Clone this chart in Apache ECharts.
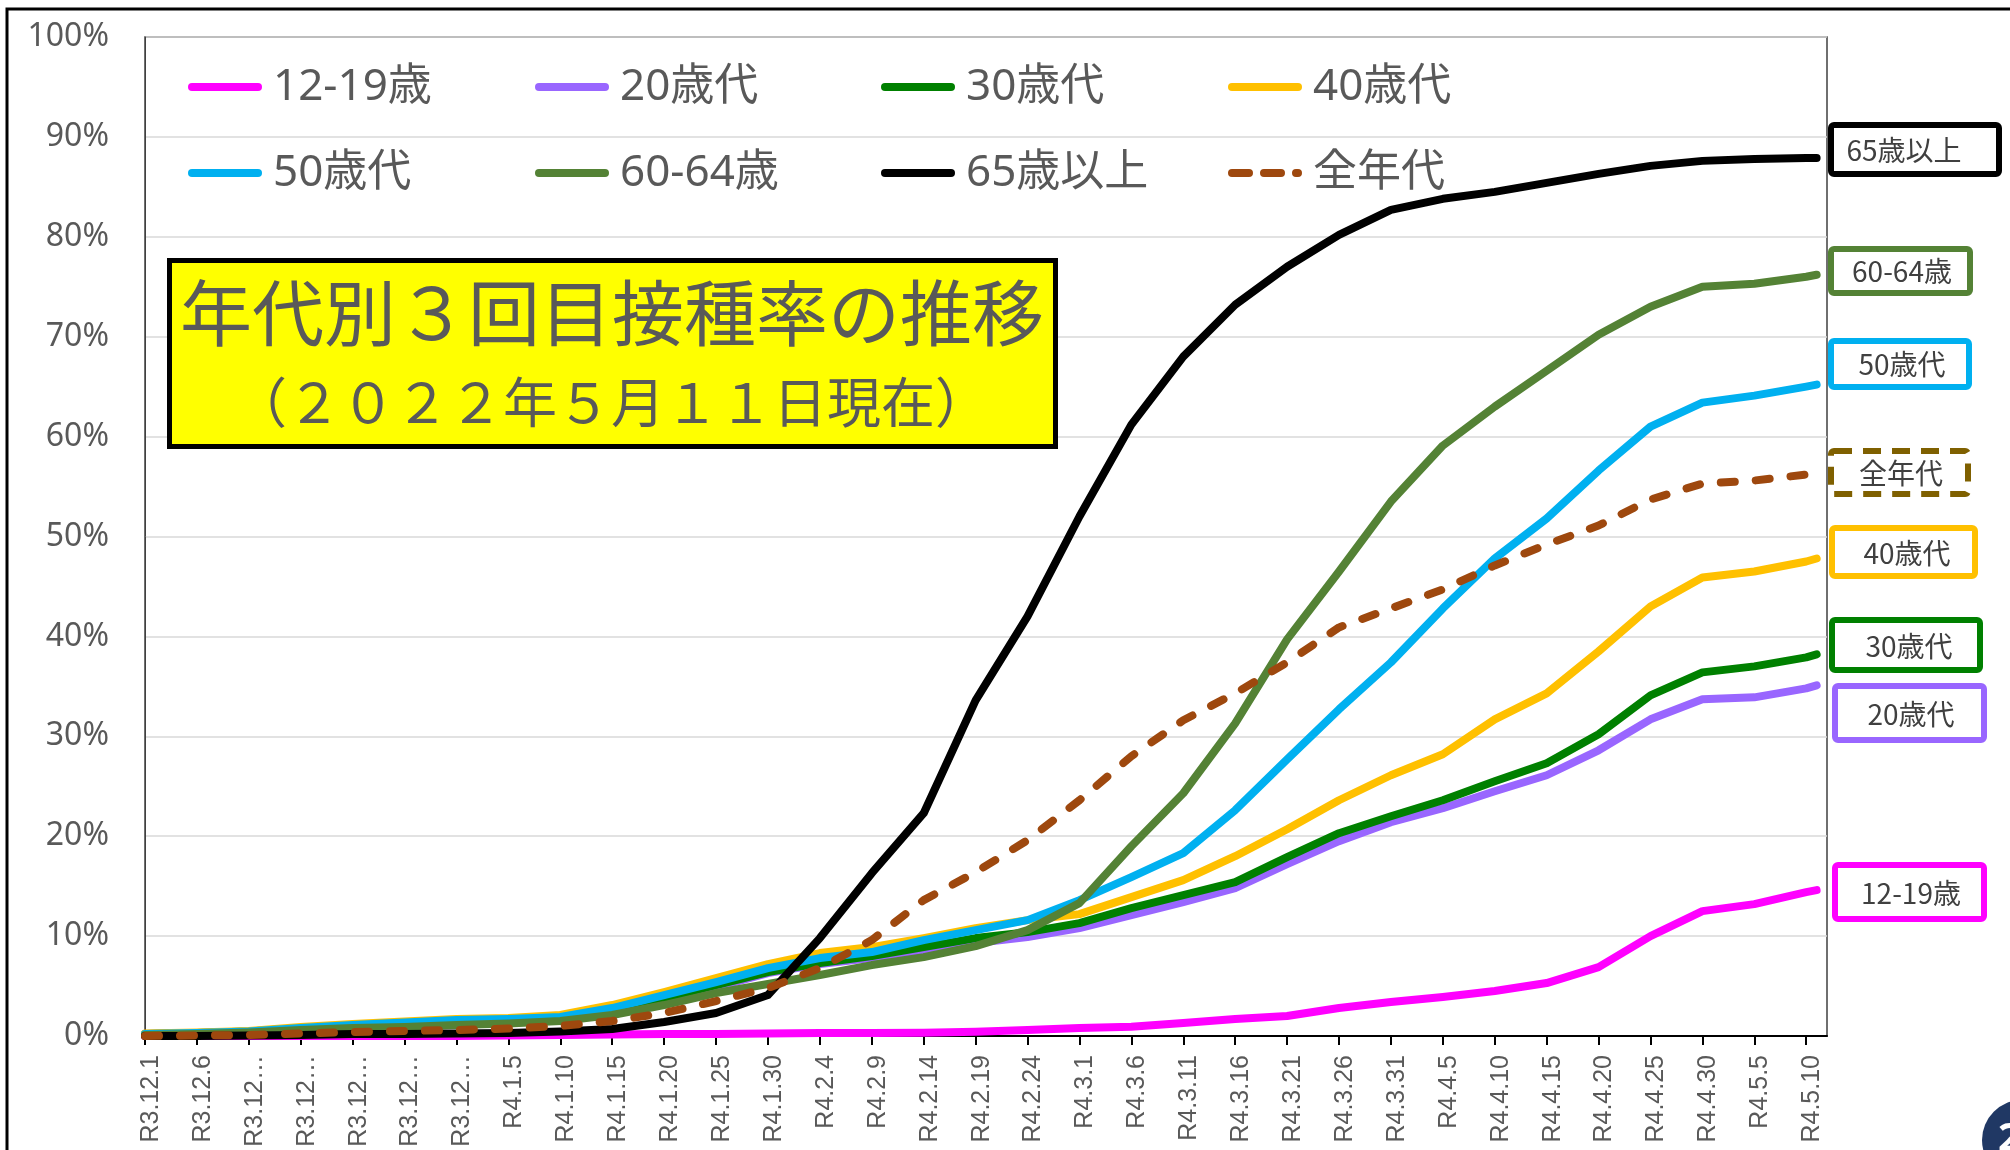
<!DOCTYPE html>
<html>
<head>
<meta charset="utf-8">
<title>年代別3回目接種率の推移</title>
<script src="https://cdn.jsdelivr.net/npm/echarts/dist/echarts.min.js"></script>
<style>
    html, body { margin: 0; padding: 0; background: #fff; }
    #capacity { width: 2010px; height: 1150px; }
</style>
</head>
<body>
<div id="capacity"></div>
<script>
// x軸の目盛り（5日ごと）
var tickDays = [0, 5, 10, 15, 20, 25, 30, 35, 40, 45, 50, 55, 60, 65, 70, 75, 80,
    85, 90, 95, 100, 105, 110, 115, 120, 125, 130, 135, 140, 145, 150, 155, 160];
var tickLabels = ['R3.12.1', 'R3.12.6', 'R3.12…', 'R3.12…', 'R3.12…', 'R3.12…', 'R3.12…',
    'R4.1.5', 'R4.1.10', 'R4.1.15', 'R4.1.20', 'R4.1.25', 'R4.1.30',
    'R4.2.4', 'R4.2.9', 'R4.2.14', 'R4.2.19', 'R4.2.24',
    'R4.3.1', 'R4.3.6', 'R4.3.11', 'R4.3.16', 'R4.3.21', 'R4.3.26', 'R4.3.31',
    'R4.4.5', 'R4.4.10', 'R4.4.15', 'R4.4.20', 'R4.4.25', 'R4.4.30',
    'R4.5.5', 'R4.5.10'];

// 読み取った日（R3.12.1 からの日数）
var sampleDays = [0, 5, 10, 15, 20, 25, 30, 35, 40, 45, 50, 55, 60, 65, 70, 75, 80,
    85, 90, 95, 100, 105, 110, 115, 120, 125, 130, 135, 140, 145, 150, 155, 160, 161];

// 接種率（%）
var age12to19 = [0, 0, 0, 0, 0, 0, 0, 0.05, 0.1, 0.15, 0.2, 0.2, 0.25, 0.3, 0.3, 0.33, 0.43,
    0.6, 0.8, 0.93, 1.3, 1.7, 2.0, 2.8, 3.4, 3.9, 4.5, 5.3, 6.9, 10.0, 12.5, 13.2, 14.4, 14.6];
var age20s = [0.2, 0.3, 0.4, 0.75, 1.0, 1.25, 1.45, 1.55, 1.75, 2.5, 3.6, 4.9, 6.3, 7.2, 7.8, 8.4, 9.3,
    9.9, 10.8, 12.1, 13.4, 14.8, 17.2, 19.5, 21.4, 22.8, 24.5, 26.1, 28.6, 31.7, 33.7, 33.9, 34.8, 35.1];
var age30s = [0.2, 0.3, 0.45, 0.8, 1.1, 1.3, 1.5, 1.6, 1.8, 2.6, 3.8, 5.1, 6.4, 7.3, 8.0, 8.9, 9.8,
    10.4, 11.3, 12.8, 14.1, 15.4, 17.9, 20.3, 22.0, 23.6, 25.5, 27.3, 30.2, 34.1, 36.4, 37.0, 37.9, 38.2];
var age40s = [0.25, 0.35, 0.5, 0.9, 1.2, 1.45, 1.7, 1.8, 2.1, 3.1, 4.4, 5.8, 7.2, 8.3, 8.9, 9.8, 10.8,
    11.6, 12.2, 13.9, 15.6, 18.0, 20.7, 23.6, 26.1, 28.2, 31.7, 34.3, 38.5, 43.0, 45.9, 46.5, 47.5, 47.8];
var age50s = [0.2, 0.3, 0.45, 0.8, 1.1, 1.35, 1.6, 1.7, 1.9, 2.8, 4.1, 5.4, 6.8, 7.8, 8.4, 9.6, 10.6,
    11.6, 13.6, 15.9, 18.3, 22.6, 27.7, 32.7, 37.4, 42.8, 47.8, 51.8, 56.6, 61.0, 63.4, 64.1, 65.0, 65.2];
var age60to64 = [0.1, 0.2, 0.35, 0.6, 0.8, 0.9, 1.1, 1.25, 1.5, 2.1, 3.1, 4.3, 5.2, 6.1, 7.1, 7.9, 9.0,
    10.6, 13.3, 19.0, 24.3, 31.3, 39.7, 46.5, 53.5, 59.1, 63.0, 66.6, 70.2, 73.0, 75.0, 75.3, 76.0, 76.2];
var age65plus = [0, 0, 0.05, 0.1, 0.2, 0.2, 0.25, 0.3, 0.45, 0.7, 1.4, 2.3, 4.1, 9.8, 16.3, 22.3, 33.6,
    42.0, 52.0, 61.2, 68.0, 73.2, 77.0, 80.2, 82.7, 83.8, 84.5, 85.4, 86.3, 87.1, 87.6, 87.8, 87.9, 87.9];
var allAges = [0, 0.05, 0.1, 0.25, 0.4, 0.5, 0.6, 0.75, 1.0, 1.5, 2.3, 3.5, 4.8, 6.8, 9.6, 13.6, 16.4,
    19.6, 23.6, 28.0, 31.6, 34.3, 37.4, 40.9, 42.8, 44.7, 47.1, 49.2, 51.1, 53.7, 55.3, 55.6, 56.2, 56.4];

var seriesDefs = [
    { name: '12-19歳', color: '#FF00FF', values: age12to19 },
    { name: '20歳代', color: '#9966FF', values: age20s },
    { name: '30歳代', color: '#008000', values: age30s },
    { name: '40歳代', color: '#FFC000', values: age40s },
    { name: '50歳代', color: '#00B0F0', values: age50s },
    { name: '60-64歳', color: '#548235', values: age60to64 },
    { name: '65歳以上', color: '#000000', values: age65plus },
    { name: '全年代', color: '#9E480E', values: allAges, dashed: true }
];

// 凡例の配置（2行4列）
var legendCols = [188, 535, 881, 1228];
var legendRows = [61, 147];

// 右側のラベル枠
var calloutBoxes = [
    { text: '65歳以上', color: '#000000', x: 1831, y: 125, w: 168, h: 49, tx: 1904, ty: 150 },
    { text: '60-64歳', color: '#548235', x: 1831, y: 249, w: 139, h: 44, tx: 1902, ty: 271 },
    { text: '50歳代', color: '#00B0F0', x: 1831, y: 341, w: 138, h: 46, tx: 1902, ty: 364 },
    { text: '全年代', color: '#7F6000', x: 1831, y: 451, w: 137, h: 43, tx: 1901, ty: 473, dashed: true },
    { text: '40歳代', color: '#FFC000', x: 1832, y: 528, w: 143, h: 48, tx: 1907, ty: 553 },
    { text: '30歳代', color: '#008000', x: 1832, y: 620, w: 148, h: 50, tx: 1909, ty: 646 },
    { text: '20歳代', color: '#9966FF', x: 1835, y: 686, w: 149, h: 54, tx: 1911, ty: 714 },
    { text: '12-19歳', color: '#FF00FF', x: 1835, y: 865, w: 149, h: 54, tx: 1911, ty: 893 }
];

var CJK = "'Noto Sans', 'Noto Sans CJK JP', sans-serif";

function init() {
    var myChart = echarts.init(document.getElementById('capacity'));
    var option;

    var series = seriesDefs.map(function (d) {
        return {
            name: d.name,
            type: 'line',
            symbol: 'none',
            animation: false,
            data: sampleDays.map(function (day, i) { return [day, d.values[i]]; }),
            itemStyle: { color: d.color },
            lineStyle: {
                color: d.color,
                width: 8,
                cap: 'round',
                join: 'round',
                type: d.dashed ? [14, 21] : 'solid'
            }
        };
    });

    var legends = seriesDefs.map(function (d, i) {
        return {
            data: [d.name],
            left: legendCols[i % 4],
            top: legendRows[Math.floor(i / 4)],
            padding: 0,
            itemWidth: 66,
            itemHeight: 8,
            selectedMode: false,
            itemStyle: { color: 'rgba(0,0,0,0)', borderWidth: 0 },
            lineStyle: { width: 8, cap: 'round', type: d.dashed ? [17, 15] : 'solid' },
            textStyle: {
                fontSize: 44,
                lineHeight: 52,
                color: '#595959',
                fontFamily: CJK,
                padding: [0, 0, 0, 10]
            }
        };
    });

    var graphics = [
        // 外枠
        {
            type: 'rect', silent: true, z: 100,
            shape: { x: 7, y: 9, width: 2100, height: 1200 },
            style: { fill: null, stroke: '#000', lineWidth: 3 }
        },
        // タイトル
        {
            type: 'rect', z: 50,
            shape: { x: 169.5, y: 260.5, width: 886, height: 186 },
            style: { fill: '#FFFF00', stroke: '#000', lineWidth: 5 }
        },
        {
            type: 'text', z: 51, x: 612, y: 313,
            style: {
                text: '年代別３回目接種率の推移', fill: '#595959',
                font: "72px 'Noto Sans CJK JP'", align: 'center', verticalAlign: 'middle'
            }
        },
        {
            type: 'text', z: 51, x: 611, y: 402,
            style: {
                text: '（２０２２年５月１１日現在）', fill: '#595959',
                font: "54px 'Noto Sans CJK JP'", align: 'center', verticalAlign: 'middle'
            }
        },
        // ページ番号
        {
            type: 'circle', z: 50,
            shape: { cx: 2022, cy: 1140, r: 40 },
            style: { fill: '#203864' }
        },
        {
            type: 'text', z: 51, x: 1998, y: 1140,
            style: {
                text: '2', fill: '#fff', font: "bold 40px 'Noto Sans'",
                align: 'left', verticalAlign: 'middle'
            }
        }
    ];

    calloutBoxes.forEach(function (b) {
        graphics.push({
            type: 'rect', z: 50,
            shape: { x: b.x, y: b.y, width: b.w, height: b.h, r: 3 },
            style: {
                fill: '#fff', stroke: b.color, lineWidth: 6,
                lineDash: b.dashed ? [18, 11] : null
            }
        });
        graphics.push({
            type: 'text', z: 51, x: b.tx, y: b.ty,
            style: {
                text: b.text, fill: '#404040', font: "28px 'Noto Sans CJK JP'",
                align: 'center', verticalAlign: 'middle'
            }
        });
    });

    option = {
        animation: false,
        backgroundColor: '#fff',
        textStyle: { fontFamily: CJK },
        grid: {
            show: true,
            left: 145,
            right: 183,
            top: 37,
            bottom: 114,
            borderColor: '#404040',
            borderWidth: 1.5,
            backgroundColor: '#fff'
        },
        legend: legends,
        xAxis: {
            type: 'value',
            min: 0,
            max: 162,
            interval: 5,
            axisLine: { show: true, lineStyle: { color: '#000', width: 2 } },
            axisTick: {
                show: true, length: 9, customValues: tickDays,
                lineStyle: { color: '#000', width: 2 }
            },
            axisLabel: {
                rotate: 90,
                margin: 19,
                customValues: tickDays,
                formatter: function (v) {
                    var i = tickDays.indexOf(v);
                    return i >= 0 ? '{t|' + tickLabels[i] + '}' : '';
                },
                rich: {
                    // 目盛りより少し右に寄せる
                    t: {
                        fontSize: 25,
                        color: '#595959',
                        fontFamily: "'Liberation Sans', Arial, sans-serif",
                        padding: [12, 0, 0, 0]
                    }
                }
            },
            splitLine: { show: false }
        },
        yAxis: {
            type: 'value',
            min: 0,
            max: 100,
            interval: 10,
            axisLine: { show: true, lineStyle: { color: '#404040', width: 1 } },
            axisTick: { show: false },
            axisLabel: {
                formatter: '{value}%',
                fontSize: 32,
                margin: 36,
                color: '#595959',
                fontFamily: CJK
            },
            splitLine: { lineStyle: { color: '#D9D9D9', width: 1.5 } }
        },
        series: series,
        graphic: graphics
    };

    option && myChart.setOption(option);
}

init();
</script>
</body>
</html>
